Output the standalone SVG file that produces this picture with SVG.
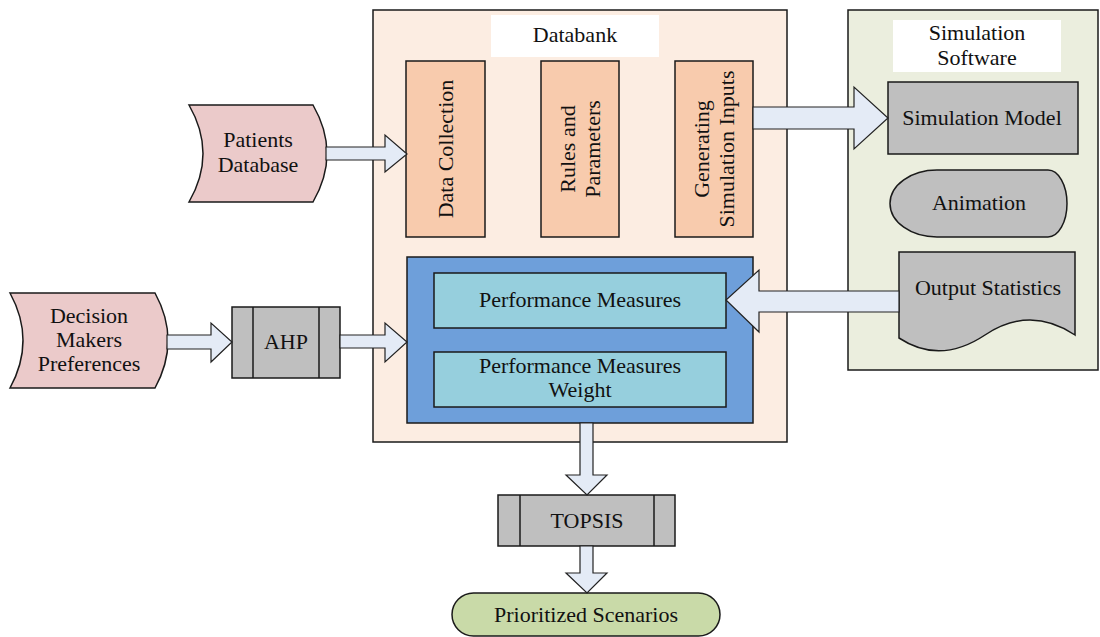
<svg xmlns="http://www.w3.org/2000/svg" width="1100" height="637" viewBox="0 0 1100 637">
<style>
text{font-family:"Liberation Serif","Tinos","Times New Roman","DejaVu Serif",serif;font-size:22px;fill:#111;text-anchor:middle}
.s{stroke:#1a1a1a;stroke-width:1.5}
.arrow{fill:#E4EBF6;stroke:#222;stroke-width:1.2;stroke-linejoin:miter}
.gray{fill:#BFBFBF}
.orange{fill:#F8CBAD}
.teal{fill:#96CFDD}
.pink{fill:#EBCACA}
</style>
<rect width="1100" height="637" fill="#fff"/>
<g id="databank">
<rect x="373" y="10" width="414" height="432" fill="#FCEDE2" class="s"/>
<rect x="491" y="15" width="168" height="42" fill="#fff"/>
<text x="575" y="42">Databank</text>
</g>
<g id="simsoftware">
<rect x="848" y="10" width="250" height="360" fill="#EBEEDE" class="s"/>
<rect x="893" y="20" width="168" height="52" fill="#fff"/>
<text x="977" y="40">Simulation<tspan x="977" dy="25">Software</tspan></text>
</g>
<g id="datacollection">
<rect x="406" y="61" width="79" height="176" class="s orange"/>
<text transform="translate(446,149) rotate(-90)" dy="7">Data Collection</text>
</g>
<g id="rules">
<rect x="541" y="61" width="78" height="176" class="s orange"/>
<text transform="translate(580,149) rotate(-90)"><tspan x="0" dy="-5">Rules and</tspan><tspan x="0" dy="25">Parameters</tspan></text>
</g>
<g id="generating">
<rect x="675" y="61" width="78" height="176" class="s orange"/>
<text transform="translate(714,149) rotate(-90)"><tspan x="0" dy="-5">Generating</tspan><tspan x="0" dy="25">Simulation Inputs</tspan></text>
</g>
<g id="measuresgroup">
<rect x="407" y="257" width="346" height="166" fill="#6E9FDA" class="s"/>
</g>
<g id="pm">
<rect x="434" y="273" width="292" height="55" class="s teal"/>
<text x="580" y="307">Performance Measures</text>
</g>
<g id="pmw">
<rect x="434" y="352" width="292" height="55" class="s teal"/>
<text x="580" y="373">Performance Measures<tspan x="580" dy="24">Weight</tspan></text>
</g>
<g id="patients">
<path d="M189,105 L313,105 Q341,153.5 313,202 L189,202 Q217,153.5 189,105 Z" class="s pink"/>
<text x="258" y="147">Patients<tspan x="258" dy="25">Database</tspan></text>
</g>
<g id="decision">
<path d="M10,293 L155,293 Q181,340.5 155,388 L10,388 Q36,340.5 10,293 Z" class="s pink"/>
<text x="89" y="323">Decision<tspan x="89" dy="24">Makers</tspan><tspan x="89" dy="24">Preferences</tspan></text>
</g>
<g id="ahp">
<rect x="232" y="307" width="108" height="71" class="s gray"/>
<line x1="253" y1="307" x2="253" y2="378" class="s"/>
<line x1="319" y1="307" x2="319" y2="378" class="s"/>
<text x="286" y="349">AHP</text>
</g>
<g id="simmodel">
<rect x="888" y="82" width="190" height="72" class="s gray"/>
<text x="982" y="125">Simulation Model</text>
</g>
<g id="animation">
<path d="M937,170 L1048,170 A19,33.5 0 0 1 1048,237 L937,237 A47,33.5 0 0 1 937,170 Z" class="s gray"/>
<text x="979" y="210">Animation</text>
</g>
<g id="outputstats">
<path d="M899,252 L1075,252 L1075,335 Q1030,305 985,335 Q940,365 899,338 Z" class="s gray"/>
<text x="988" y="295">Output Statistics</text>
</g>
<g id="topsis">
<rect x="498" y="495" width="177" height="51" class="s gray"/>
<line x1="520" y1="495" x2="520" y2="546" class="s"/>
<line x1="654" y1="495" x2="654" y2="546" class="s"/>
<text x="587" y="528">TOPSIS</text>
</g>
<g id="prioritized">
<rect x="452" y="593" width="268" height="43" rx="21.5" fill="#C9DAA8" class="s"/>
<text x="586" y="622">Prioritized Scenarios</text>
</g>
<g id="connectors">
<polygon class="arrow" points="326,147 385,147 385,135 407,154 385,172 385,160 326,160"/>
<polygon class="arrow" points="167,335 211,335 211,323 232,342 211,362 211,349 167,349"/>
<polygon class="arrow" points="340,335 385,335 385,323 407,342 385,362 385,348 340,348"/>
<polygon class="arrow" points="753,107 854,107 854,87 888,118 854,149 854,129 753,129"/>
<polygon class="arrow" points="899,291 759,291 759,270 726,300 759,332 759,312 899,312"/>
<polygon class="arrow" points="580,423 593,423 593,475 607,475 587,495 566,475 580,475"/>
<polygon class="arrow" points="580,546 593,546 593,573 607,573 587,593 566,573 580,573"/>
</g>
</svg>
